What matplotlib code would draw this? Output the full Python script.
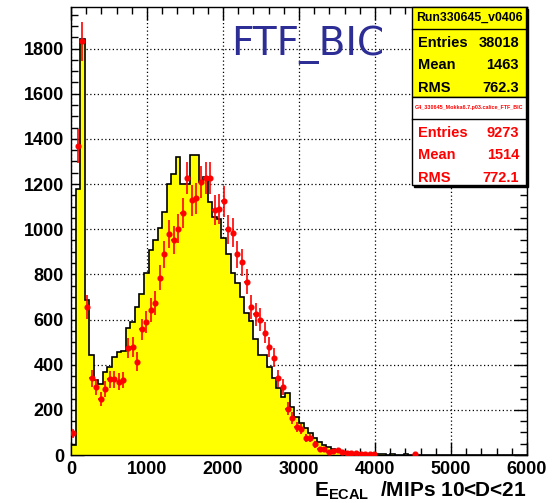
import numpy as np
import matplotlib
matplotlib.use("Agg")
import matplotlib.pyplot as plt
from matplotlib.patches import Rectangle
from matplotlib.ticker import MultipleLocator

plt.rcParams['font.family'] = ['Liberation Sans', 'DejaVu Sans']
plt.rcParams['mathtext.fontset'] = 'custom'
plt.rcParams['mathtext.rm'] = 'Liberation Sans'
plt.rcParams['mathtext.bf'] = 'Liberation Sans:bold'

# 100 bins of 60 MIPs between 0 and 6000
bin_edges = np.arange(0, 6001, 60)

# simulation (yellow histogram), bins from 0 upwards; remaining bins are empty
sim_counts = [44, 1180, 1841, 686, 442, 332, 313, 369, 388, 435,
              454, 460, 561, 590, 656, 711, 804, 907, 951, 1006,
              1075, 1202, 1246, 1320, 1202, 1202, 1327, 1327, 1209, 1232,
              1121, 1055, 1047, 959, 892, 804, 760, 701, 630, 594,
              514, 445, 441, 391, 342, 298, 258, 276, 214, 170,
              143, 118, 96, 74, 59, 44, 37, 25, 19, 15,
              12, 10, 9, 8, 6, 6, 4, 3, 5, 2,
              5, 2, 1, 3, 1, 2, 2, 1]

# data run (red points), normalised to the simulation entries
data_counts = [96, 1367, 1833, 656, 339, 302, 248, 291, 335, 335,
               325, 332, 472, 477, 413, 556, 590, 642, 674, 786,
               889, 978, 951, 1003, 1072, 1227, 1128, 1136, 1209, 1227,
               1227, 1084, 1089, 1124, 999, 984, 888, 853, 767, 656,
               624, 600, 541, 479, 431, 339, 302, 204, 165, 125,
               115, 77, 77, 47, 25, 25, 15, 18, 22, 12,
               10, 10, 10, 4, 4, 4, 4, 0, 0, 0,
               0, 0, 0, 0, 0, 4]

sim_stats = [("Entries", "38018"), ("Mean", "1463"), ("RMS", "762.3")]
data_stats = [("Entries", "9273"), ("Mean", "1514"), ("RMS", "772.1")]
sim_name = "Run330645_v0406"
data_name = "G4_330645_Mokka6.7.p03.calice_FTF_BIC"

n_bins = len(bin_edges) - 1
sim = np.zeros(n_bins)
sim[:len(sim_counts)] = sim_counts
data = np.zeros(n_bins)
data[:len(data_counts)] = data_counts
centers = 0.5 * (bin_edges[:-1] + bin_edges[1:])

# errors of the scaled data histogram
scale = 38018 / 9273
data_err = np.sqrt(data * scale)
shown = data > 0

W, H = 560, 503
fig = plt.figure(figsize=(W / 100, H / 100), dpi=100)


def fx(px):
    return px / W


def fy(py):
    return 1 - py / H


ax = fig.add_axes([fx(71), fy(455), (527 - 71) / W, (455 - 7) / H])
ax.set_axisbelow(True)

ax.stairs(sim, bin_edges, fill=True, color='#ffff00', zorder=1)
ax.stairs(sim, bin_edges, color='black', lw=1.2, zorder=1.2)
ax.errorbar(centers[shown], data[shown], yerr=data_err[shown], xerr=30,
            fmt='o', color='#ff0000', ms=3.4, elinewidth=1.2, capsize=0,
            zorder=3)

ax.set_xlim(0, 6000)
ax.set_ylim(0, 1984)
ax.xaxis.set_major_locator(MultipleLocator(1000))
ax.xaxis.set_minor_locator(MultipleLocator(200))
ax.yaxis.set_major_locator(MultipleLocator(200))
ax.yaxis.set_minor_locator(MultipleLocator(50))
ax.tick_params(which='both', direction='in', top=True, right=True,
               width=1, color='black')
ax.tick_params(which='major', length=9.5, labelsize=13, pad=5)
ax.tick_params(axis='x', which='major', pad=4)
ax.tick_params(which='minor', length=5)
for lab in ax.get_xticklabels() + ax.get_yticklabels():
    lab.set_fontweight('bold')
ax.grid(True, which='major', linestyle=(0, (1, 2)), color='black', lw=0.9)
for s in ax.spines.values():
    s.set_linewidth(1)

fig.text(fx(308), fy(45), "FTF_BIC", family='DejaVu Sans', fontsize=28,
         color='#2d2d96', ha='center', va='center')
fig.text(fx(527), fy(496), r"E$_{\mathbf{ECAL}}$  /MIPs 10<D<21",
         fontsize=15, fontweight='bold', ha='right', va='baseline')


# stat boxes
def stat_box(top, bottom, face, name, rows, color, name_size):
    left, right = 412, 526
    fig.patches.append(Rectangle((fx(left + 2), fy(bottom + 2)),
                                 (right - left) / W, (bottom - top) / H,
                                 transform=fig.transFigure, facecolor='black',
                                 edgecolor='black', zorder=5))
    fig.patches.append(Rectangle((fx(left), fy(bottom)),
                                 (right - left) / W, (bottom - top) / H,
                                 transform=fig.transFigure, facecolor=face,
                                 edgecolor='black', lw=1, zorder=6))
    split = top + 22
    fig.add_artist(plt.Line2D([fx(left), fx(right)], [fy(split), fy(split)],
                              color='black', lw=1, zorder=7))
    fig.text(fx((left + right) / 2), fy(top + 11), name, fontsize=name_size,
             fontweight='bold', color=color, ha='center', va='center',
             zorder=8)
    for i, (k, v) in enumerate(rows):
        y = fy(top + 36 + 22.3 * i)
        fig.text(fx(418), y, k, fontsize=10.5, fontweight='bold', color=color,
                 ha='left', va='center', zorder=8)
        fig.text(fx(519), y, v, fontsize=10.5, fontweight='bold', color=color,
                 ha='right', va='center', zorder=8)


stat_box(7, 97, '#ffff00', sim_name, sim_stats, 'black', 8.8)
stat_box(97, 185, 'white', data_name, data_stats, '#ff0000', 3.9)

fig.savefig("out.png", dpi=100)
